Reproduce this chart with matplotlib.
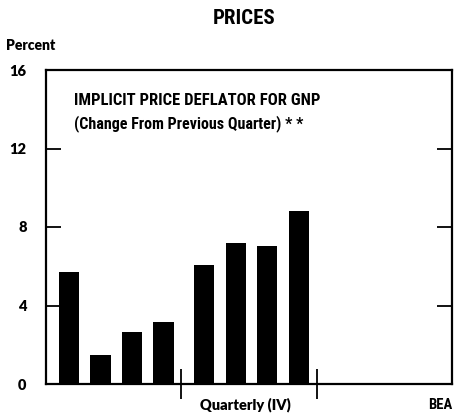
import numpy as np
import matplotlib
matplotlib.use("Agg")
import matplotlib.pyplot as plt

# Implicit price deflator for GNP, % change from previous quarter
year_a = [5.7, 1.5, 2.65, 3.15]
year_b = [6.05, 7.2, 7.05, 8.8]
yticks = [0, 4, 8, 12, 16]

narrow = ["Roboto Condensed", "DejaVu Sans"]
geo = ["Lato", "DejaVu Sans"]

fig = plt.figure(figsize=(4.66, 4.18), dpi=100)
ax = fig.add_axes([46 / 466, 1 - 384 / 418, 406 / 466, 314 / 418])

# quarters: each year is 4 units wide on the x axis
q = np.arange(4) * 0.93 + 0.68
ax.bar(q, year_a, width=0.6, color="black")
ax.bar(q + 4, year_b, width=0.6, color="black")

ax.set_xlim(0, 12)
ax.set_ylim(0, 16)
for s in ax.spines.values():
    s.set_linewidth(1.6)

ax.set_yticks(yticks)
ax.set_yticklabels([str(v) for v in yticks], family=geo, fontweight="heavy", fontsize=10.5)
ax.tick_params(axis="y", direction="in", length=11, width=1.3, left=True, right=True, pad=14)
ax.set_xticks([4, 8])
ax.set_xticklabels([])
ax.tick_params(axis="x", direction="inout", length=22, width=1.3)

ax.text(0.07, 0.904, "IMPLICIT PRICE DEFLATOR FOR GNP", transform=ax.transAxes,
        family=narrow, fontweight="bold", fontsize=12, va="center")
ax.text(0.07, 0.831, "(Change From Previous Quarter) * *", transform=ax.transAxes,
        family=narrow, fontweight="bold", fontsize=11.5, va="center")

fig.text(244 / 466, 1 - 18 / 418, "PRICES", family=narrow, fontweight="bold",
         fontsize=15, ha="center", va="center")
fig.text(6 / 466, 1 - 46 / 418, "Percent", family=geo, fontweight="heavy",
         fontsize=10, ha="left", va="center")
fig.text(245 / 466, 1 - 405 / 418, "Quarterly (IV)", family=geo, fontweight="heavy",
         fontsize=10.5, ha="center", va="center")
fig.text(452 / 466, 1 - 405 / 418, "BEA", family=narrow, fontweight="bold",
         fontsize=10.5, ha="right", va="center")

fig.savefig("out.png", dpi=100)
